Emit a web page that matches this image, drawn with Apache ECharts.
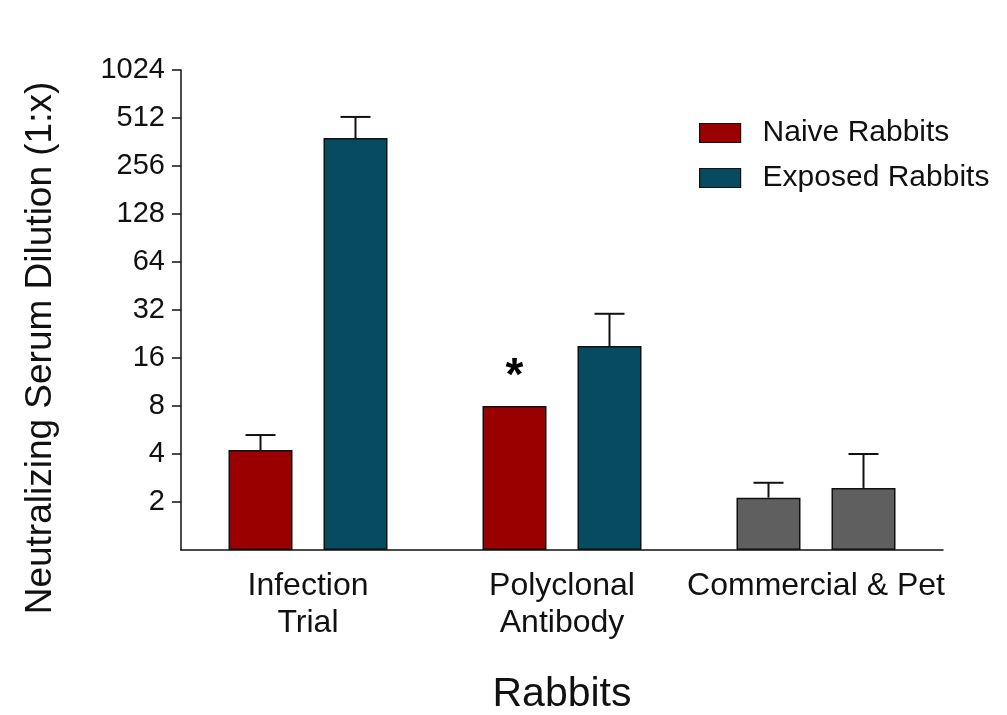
<!DOCTYPE html>
<html>
<head>
<meta charset="utf-8">
<script src="https://cdn.jsdelivr.net/npm/echarts@6/dist/echarts.min.js"></script>
<style>
html,body{margin:0;padding:0;background:#fff;}
#chart{width:1007px;height:715px;}
</style>
</head>
<body>
<div id="chart"></div>
<script>
const categories = ['Infection\nTrial', 'Polyclonal\nAntibody', 'Commercial & Pet'];
const seriesNames = ['Naive Rabbits', 'Exposed Rabbits'];
const naiveValues = [4.24, 8, 2.13];
const exposedValues = [383, 19.0, 2.45];
const naiveUpper = [5.26, null, 2.64];
const exposedUpper = [520, 30.3, 4.0];
const yTickValues = [2, 4, 8, 16, 32, 64, 128, 256, 512, 1024];
const starIndex = 1;

const naiveColor = '#9b0000';
const exposedColor = '#064b60';
const grayColor = '#5f5f5f';
const barW = 64;
const gapPx = 31;
const half = (barW + gapPx) / 2;

function barData(vals, isNaive) {
  return vals.map((v, i) => {
    const item = { value: v };
    if (i === 2) item.itemStyle = { color: grayColor };
    if (isNaive && i === starIndex) {
      item.label = {
        show: true, position: 'top', distance: 6, formatter: '*',
        fontSize: 46, fontWeight: 'bold', color: '#000', fontFamily: 'Liberation Sans, Arial'
      };
    }
    return item;
  });
}
function errData(vals, means) {
  const out = [];
  vals.forEach((u, i) => { if (u != null) out.push([i, means[i], u]); });
  return out;
}
function errSeries(vals, means, offset) {
  return {
    type: 'custom', silent: true, z: 1,
    data: errData(vals, means),
    encode: { x: 0, y: [1, 2] },
    renderItem: function (params, api) {
      const p0 = api.coord([api.value(0), api.value(1)]);
      const p1 = api.coord([api.value(0), api.value(2)]);
      const x = p0[0] + offset;
      const st = { stroke: '#111', lineWidth: 2 };
      return {
        type: 'group',
        children: [
          { type: 'line', shape: { x1: x, y1: p0[1], x2: x, y2: p1[1] }, style: st },
          { type: 'line', shape: { x1: x - 15, y1: p1[1], x2: x + 15, y2: p1[1] }, style: st }
        ]
      };
    }
  };
}

const font = 'Liberation Sans, Arial, sans-serif';
const chart = echarts.init(document.getElementById('chart'));
chart.setOption({
  backgroundColor: '#fff',
  animation: false,
  textStyle: { fontFamily: font, color: '#111' },
  grid: { left: 181, right: 64, top: 70, bottom: 165, containLabel: false, outerBoundsMode: 'none' },
  legend: {
    orient: 'vertical', left: 694, top: 113,
    itemWidth: 41, itemHeight: 19, itemGap: 15, icon: 'rect',
    data: seriesNames,
    itemStyle: { borderColor: '#111', borderWidth: 1.2 },
    textStyle: { fontSize: 30, color: '#111', fontFamily: font, padding: [0, 0, 0, 17] }
  },
  xAxis: {
    type: 'category', data: categories,
    name: 'Rabbits', nameLocation: 'middle', nameGap: 124,
    nameTextStyle: { fontSize: 41, color: '#111', fontFamily: font },
    axisLine: { lineStyle: { color: '#111', width: 1.5 } },
    axisTick: { alignWithLabel: true, length: 11, lineStyle: { color: '#111', width: 1.5 } },
    axisLabel: { fontSize: 32, lineHeight: 37, margin: 18, color: '#111', fontFamily: font, interval: 0 }
  },
  yAxis: {
    type: 'log', logBase: 2, min: 1, max: 1024,
    name: 'Neutralizing Serum Dilution (1:x)', nameLocation: 'middle', nameGap: 122,
    nameTextStyle: { fontSize: 37, color: '#111', fontFamily: font, padding: [0, 76, 0, 0] },
    splitLine: { show: false },
    axisLine: { show: true, lineStyle: { color: '#111', width: 1.5 } },
    axisTick: { show: true, length: 9, customValues: yTickValues, lineStyle: { color: '#111', width: 1.5 } },
    axisLabel: {
      fontSize: 29, margin: 16, color: '#111', fontFamily: font, customValues: yTickValues,
      formatter: function (v) { return String(Math.round(v)); }
    }
  },
  series: [
    {
      name: seriesNames[0], type: 'bar', barWidth: barW, barGap: (gapPx / barW * 100) + '%',
      itemStyle: { color: naiveColor, borderColor: '#111', borderWidth: 1.5 },
      data: barData(naiveValues, true), z: 2
    },
    {
      name: seriesNames[1], type: 'bar', barWidth: barW,
      itemStyle: { color: exposedColor, borderColor: '#111', borderWidth: 1.5 },
      data: barData(exposedValues, false), z: 2
    },
    errSeries(naiveUpper, naiveValues, -half),
    errSeries(exposedUpper, exposedValues, half)
  ]
});
</script>
</body>
</html>
